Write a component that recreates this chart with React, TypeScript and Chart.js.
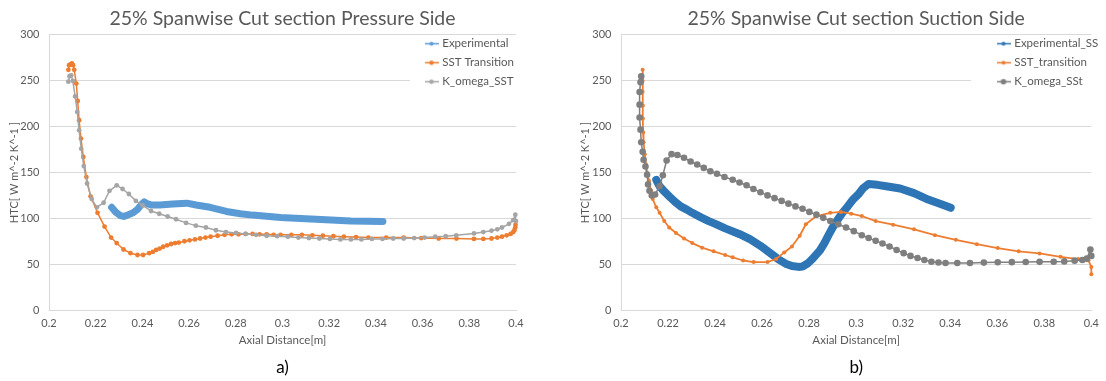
import { useEffect, useRef } from 'react';
import { Chart, registerables } from 'chart.js';

Chart.register(...registerables);

const FONT = 'Lato, "Open Sans", sans-serif';
const TEXT = '#595959';
const GRID = '#D9D9D9';

// ---------- shared ticks ----------
const xTickValues = [0.2, 0.22, 0.24, 0.26, 0.28, 0.3, 0.32, 0.34, 0.36, 0.38, 0.4];
const xTickLabels = ['0.2', '0.22', '0.24', '0.26', '0.28', '0.3', '0.32', '0.34', '0.36', '0.38', '0.4'];
const yTickValues = [0, 50, 100, 150, 200, 250, 300];
const yTickLabels = ['0', '50', '100', '150', '200', '250', '300'];

// ---------- chart a) Pressure side ----------
const titleA = '25% Spanwise Cut section Pressure Side';
const seriesNamesA = ['Experimental', 'SST Transition', 'K_omega_SST'];
const psExperimental: [number, number][] = [
  [0.2268, 112], [0.2285, 107], [0.2305, 103], [0.232, 102], [0.234, 104], [0.236, 106],
  [0.238, 110], [0.2395, 115], [0.2408, 118], [0.242, 116], [0.244, 114.5], [0.2475, 114.5],
  [0.253, 115.5], [0.259, 116.5], [0.263, 114.5], [0.269, 112], [0.276, 107.5], [0.282, 105],
  [0.2872, 103.5], [0.2992, 101], [0.3143, 99], [0.3293, 97], [0.343, 96.5],
];
const psSSTTransition: [number, number][] = [
  [0.2083, 262], [0.2086, 267], [0.2092, 268], [0.2098, 269], [0.2103, 267], [0.2108, 262],
  [0.2117, 247], [0.2123, 228], [0.2129, 207], [0.2137, 187], [0.2147, 167], [0.216, 145],
  [0.2178, 124], [0.2208, 106], [0.2238, 91], [0.2266, 79], [0.229, 73], [0.2319, 66],
  [0.2349, 62], [0.2379, 60], [0.2403, 60], [0.2429, 62], [0.2445, 63.5], [0.2459, 65.5],
  [0.2474, 67], [0.2489, 69], [0.2506, 70.5], [0.2523, 72], [0.254, 73], [0.2556, 73.5],
  [0.258, 75], [0.2602, 76], [0.2625, 77], [0.2647, 78], [0.267, 79], [0.2692, 80],
  [0.2722, 81], [0.2752, 82], [0.2782, 82.5], [0.2812, 82.5], [0.2842, 83], [0.2872, 83],
  [0.2902, 82.5], [0.2932, 82.5], [0.2962, 82], [0.2992, 82], [0.3038, 82], [0.3083, 82],
  [0.3128, 81.5], [0.3173, 81], [0.3218, 80.5], [0.3263, 80], [0.3315, 79.5], [0.3368, 79],
  [0.3444, 79], [0.3519, 79], [0.3594, 78.5], [0.3669, 78], [0.3745, 78], [0.382, 77.5],
  [0.386, 77.5], [0.3895, 78], [0.392, 79], [0.394, 80], [0.396, 81.5], [0.3977, 83],
  [0.3988, 85], [0.3993, 87], [0.3997, 90], [0.3998, 93],
];
const psKOmegaSST: [number, number][] = [
  [0.2083, 249], [0.2088, 255], [0.2095, 256], [0.2102, 250], [0.2112, 233], [0.2121, 216],
  [0.2129, 196], [0.2138, 176], [0.2149, 157], [0.2163, 138], [0.2183, 121], [0.2205, 112],
  [0.2234, 117], [0.2259, 130], [0.229, 136], [0.2315, 132], [0.2342, 126.5], [0.2372, 119],
  [0.2401, 114], [0.2437, 108], [0.2472, 105], [0.2508, 102], [0.2544, 99], [0.2587, 95],
  [0.2629, 92], [0.2672, 90], [0.2715, 87], [0.2758, 85], [0.2801, 84], [0.2842, 83],
  [0.2887, 82], [0.2932, 81], [0.2977, 80.5], [0.3023, 80], [0.3068, 79], [0.3113, 78.5],
  [0.3158, 78], [0.3203, 77.5], [0.3248, 77], [0.3293, 77], [0.3338, 77], [0.3383, 77.5],
  [0.3428, 77.5], [0.3474, 78], [0.3519, 78], [0.3564, 78.5], [0.3609, 79], [0.3654, 80],
  [0.3699, 80.5], [0.3744, 81.5], [0.382, 83.5], [0.386, 85], [0.3895, 86.5], [0.392, 88],
  [0.394, 90], [0.397, 94], [0.3988, 98], [0.3997, 104], [0.4, 97],
];

// ---------- chart b) Suction side ----------
const titleB = '25% Spanwise Cut section Suction Side';
const seriesNamesB = ['Experimental_SS', 'SST_transition', 'K_omega_SSt'];
const ssExperimental: [number, number][] = [
  [0.215, 142], [0.2164, 135], [0.2185, 129], [0.2205, 124], [0.223, 118], [0.2254, 113],
  [0.228, 109.5], [0.2303, 106], [0.234, 101], [0.2373, 97], [0.2401, 94], [0.2443, 89],
  [0.2505, 82.7], [0.255, 77], [0.2593, 70], [0.263, 63], [0.2668, 55.6], [0.27, 50.5],
  [0.2727, 48], [0.2755, 47], [0.2772, 47.5], [0.2795, 51], [0.2815, 56], [0.2846, 65],
  [0.2865, 73], [0.2883, 82], [0.29, 90], [0.292, 98], [0.2942, 106], [0.2964, 113],
  [0.2985, 120], [0.3009, 126], [0.303, 133], [0.3053, 137.5], [0.309, 136.5], [0.3128, 135],
  [0.3187, 132.5], [0.3246, 127.5], [0.3306, 120.5], [0.3365, 115], [0.3402, 111.5],
];
const ssSSTTransition: [number, number][] = [
  [0.2092, 262], [0.2092, 250], [0.2092, 238], [0.2093, 223], [0.2093, 209], [0.2094, 194],
  [0.2096, 183], [0.2101, 170], [0.2106, 159], [0.2111, 150], [0.2119, 141], [0.2128, 130],
  [0.2135, 121], [0.215, 112], [0.2164, 106], [0.2184, 97], [0.2205, 90], [0.2234, 84],
  [0.2268, 78], [0.2303, 73], [0.2345, 68], [0.2394, 64], [0.2443, 60], [0.2475, 57.4],
  [0.2519, 54], [0.2564, 52.3], [0.2623, 52.3], [0.266, 55.6], [0.2694, 62.8], [0.2727, 69.3],
  [0.276, 81], [0.2786, 93.5], [0.2831, 102.5], [0.289, 106], [0.2935, 107], [0.2979, 105],
  [0.3024, 102.5], [0.3083, 97], [0.3157, 93], [0.3246, 88], [0.3335, 81.6], [0.3424, 76.5],
  [0.3513, 71.8], [0.3602, 67.5], [0.3691, 64], [0.378, 61.7], [0.3869, 58], [0.3944, 55.6],
  [0.3988, 54], [0.4, 47], [0.4, 39],
];
const ssKOmegaSSt: [number, number][] = [
  [0.2086, 255], [0.2083, 248.5], [0.2079, 237.7], [0.2079, 224], [0.2079, 210], [0.2083, 196.7],
  [0.2086, 183], [0.2092, 172.5], [0.2096, 163.8], [0.2104, 156.5], [0.2111, 147.5], [0.2115, 137],
  [0.2121, 130], [0.2131, 125], [0.2145, 126], [0.2164, 135], [0.2178, 147], [0.2194, 163],
  [0.2215, 170], [0.224, 169], [0.2268, 166], [0.2296, 162], [0.2324, 158.7], [0.2352, 155],
  [0.238, 151.4], [0.2408, 148.6], [0.244, 145], [0.2475, 142], [0.2504, 139], [0.2534, 136],
  [0.2563, 132], [0.2593, 128.5], [0.2623, 125], [0.2653, 122], [0.2683, 119], [0.2712, 116],
  [0.2742, 113], [0.2772, 110.5], [0.2801, 107], [0.2831, 104], [0.286, 100.5], [0.289, 97],
  [0.2924, 93.5], [0.2957, 90], [0.299, 86], [0.3024, 81.6], [0.3053, 78.5], [0.3083, 75.4],
  [0.3112, 72.5], [0.3142, 69.3], [0.3172, 65.5], [0.3202, 62], [0.3231, 59], [0.3261, 56.7],
  [0.329, 54.5], [0.332, 52.7], [0.335, 51.8], [0.338, 51.3], [0.343, 51.3], [0.3484, 51.3],
  [0.3543, 51.7], [0.3602, 52], [0.3662, 52.2], [0.3721, 52.3], [0.378, 52.5], [0.384, 52.7],
  [0.3885, 53], [0.3929, 53.8], [0.3962, 54.5], [0.3981, 56], [0.3996, 66], [0.4, 59],
];

const xTitle = 'Axial Distance[m]';
const yTitle = 'HTC[ W m^-2 K^-1 ]';

function legendMarker(color: string, radius: number) {
  const c = document.createElement('canvas');
  c.width = 14;
  c.height = 9;
  const g = c.getContext('2d')!;
  g.strokeStyle = color;
  g.lineWidth = 1.5;
  g.beginPath();
  g.moveTo(0, 4.5);
  g.lineTo(14, 4.5);
  g.stroke();
  g.fillStyle = color;
  g.beginPath();
  g.arc(7, 4.5, radius, 0, Math.PI * 2);
  g.fill();
  return c;
}

const legendPlacer = {
  id: 'legendPlacer',
  afterLayout(chart: any, _args: any, opts: any) {
    const lg = chart.legend;
    if (!lg || !opts || opts.left === undefined) return;
    lg.left = opts.left;
    lg.right = chart.chartArea.right + 20;
    lg.top = opts.top;
    lg.bottom = chart.chartArea.bottom;
    if (!lg.__wrapped) {
      const orig = lg.draw;
      lg.draw = function (area: any) {
        const ctx = this.ctx;
        ctx.save();
        ctx.fillStyle = '#ffffff';
        ctx.fillRect(opts.bgLeft, opts.bgTop, opts.bgRight - opts.bgLeft, opts.bgBottom - opts.bgTop);
        ctx.restore();
        orig.call(this, area);
      };
      lg.__wrapped = true;
    }
  },
};

type Cfg = {
  title: string;
  caption: string;
  names: string[];
  series: [number, number][][];
  colors: string[];
  lineWidths: number[];
  pointRadii: number[];
  legendRadii: number[];
  padLeft: number;
  yWidth: number;
  padRight: number;
  legend: { left: number; top: number; bgLeft: number; bgTop: number; bgRight: number; bgBottom: number };
};

function makeConfig(c: Cfg): any {
  const markers = c.colors.map((col, i) => legendMarker(col, c.legendRadii[i]));
  return {
    type: 'scatter',
    data: {
      datasets: c.series.map((s, i) => ({
        label: c.names[i],
        data: s.map(([x, y]) => ({ x, y })),
        showLine: true,
        borderColor: c.colors[i],
        backgroundColor: c.colors[i],
        borderWidth: c.lineWidths[i],
        pointRadius: c.pointRadii[i],
        pointBorderWidth: 0,
        pointHoverRadius: c.pointRadii[i],
        borderCapStyle: 'round',
        borderJoinStyle: 'round',
        tension: 0,
        clip: false,
        order: c.series.length - i,
      })),
    },
    options: {
      responsive: false,
      animation: false,
      events: [],
      layout: { padding: { left: c.padLeft, right: c.padRight, top: 0, bottom: 0 } },
      scales: {
        x: {
          type: 'linear',
          min: 0.2,
          max: 0.4,
          afterBuildTicks: (scale: any) => {
            scale.ticks = xTickValues.map((v) => ({ value: v }));
          },
          afterFit: (scale: any) => {
            scale.height = 38;
          },
          ticks: {
            color: TEXT,
            font: { family: FONT, size: 11 },
            padding: 7,
            maxRotation: 0,
            autoSkip: false,
            callback: (_v: any, i: number) => xTickLabels[i],
          },
          grid: { display: false, drawTicks: false },
          border: { display: true, color: GRID, width: 1 },
          title: {
            display: true,
            text: xTitle,
            color: TEXT,
            font: { family: FONT, size: 11.5 },
            padding: { top: 0, bottom: 1 },
          },
        },
        y: {
          type: 'linear',
          min: 0,
          max: 300,
          afterBuildTicks: (scale: any) => {
            scale.ticks = yTickValues.map((v) => ({ value: v }));
          },
          afterFit: (scale: any) => {
            scale.width = c.yWidth;
          },
          ticks: {
            color: TEXT,
            font: { family: FONT, size: 11 },
            padding: 9.5,
            callback: (_v: any, i: number) => yTickLabels[i],
          },
          grid: { color: GRID, lineWidth: 1, drawTicks: false },
          border: { display: true, color: GRID, width: 1 },
          title: {
            display: true,
            text: yTitle,
            color: TEXT,
            font: { family: FONT, size: 11 },
            padding: { top: 7.4, bottom: 0 },
          },
        },
      },
      plugins: {
        title: {
          display: true,
          text: c.title,
          color: TEXT,
          fullSize: false,
          font: { family: FONT, size: 19.5, weight: 'normal', lineHeight: 1.1 },
          padding: { top: 8, bottom: 5.5 },
        },
        subtitle: {
          display: true,
          text: c.caption,
          position: 'bottom',
          color: '#000000',
          fullSize: false,
          font: { family: FONT, size: 17, weight: 'normal' },
          padding: { top: 9, bottom: 3.6 },
        },
        legend: {
          display: true,
          position: 'chartArea',
          align: 'start',
          labels: {
            color: TEXT,
            font: { family: FONT, size: 11.5 },
            usePointStyle: true,
            pointStyleWidth: 10,
            padding: 7.5,
            sort: (a: any, b: any) => a.datasetIndex - b.datasetIndex,
            generateLabels: (chart: any) => {
              const items = (Chart as any).defaults.plugins.legend.labels.generateLabels(chart);
              items.forEach((it: any) => {
                it.pointStyle = markers[it.datasetIndex];
              });
              return items;
            },
          },
        },
        legendPlacer: c.legend,
        tooltip: { enabled: false },
      },
    },
    plugins: [legendPlacer],
  };
}

const cfgA: Cfg = {
  title: titleA,
  caption: 'a)',
  names: seriesNamesA,
  series: [psExperimental, psSSTTransition, psKOmegaSST],
  colors: ['#5B9BD5', '#ED7D31', '#A5A5A5'],
  lineWidths: [7, 1.5, 1.5],
  pointRadii: [0, 2.4, 2.4],
  legendRadii: [2, 2.2, 2.2],
  padLeft: 0,
  yWidth: 49,
  padRight: 37,
  legend: { left: 419, top: 30.5, bgLeft: 410, bgTop: 37, bgRight: 516, bgBottom: 92 },
};

const cfgB: Cfg = {
  title: titleB,
  caption: 'b)',
  names: seriesNamesB,
  series: [ssExperimental, ssSSTTransition, ssKOmegaSSt],
  colors: ['#2E75B6', '#ED7D31', '#7F7F7F'],
  lineWidths: [8, 1.8, 1.5],
  pointRadii: [0, 2, 3.3],
  legendRadii: [2, 2, 2.8],
  padLeft: 18,
  yWidth: 50,
  padRight: 8,
  legend: { left: 438, top: 30.5, bgLeft: 418, bgTop: 37, bgRight: 545, bgBottom: 92 },
};

function ChartCanvas({ cfg, left }: { cfg: Cfg; left: number }) {
  const ref = useRef<HTMLCanvasElement | null>(null);
  useEffect(() => {
    if (!ref.current) return;
    const chart = new Chart(ref.current, makeConfig(cfg));
    return () => chart.destroy();
  }, [cfg]);
  return (
    <canvas
      ref={ref}
      width={553}
      height={381}
      style={{ position: 'absolute', left, top: 0, width: 553, height: 381 }}
    />
  );
}

export default function App() {
  return (
    <div
      style={{
        position: 'absolute',
        left: 0,
        top: 0,
        width: 1106,
        height: 381,
        background: '#ffffff',
        overflow: 'hidden',
      }}
    >
      <ChartCanvas cfg={cfgA} left={0} />
      <ChartCanvas cfg={cfgB} left={553} />
    </div>
  );
}
